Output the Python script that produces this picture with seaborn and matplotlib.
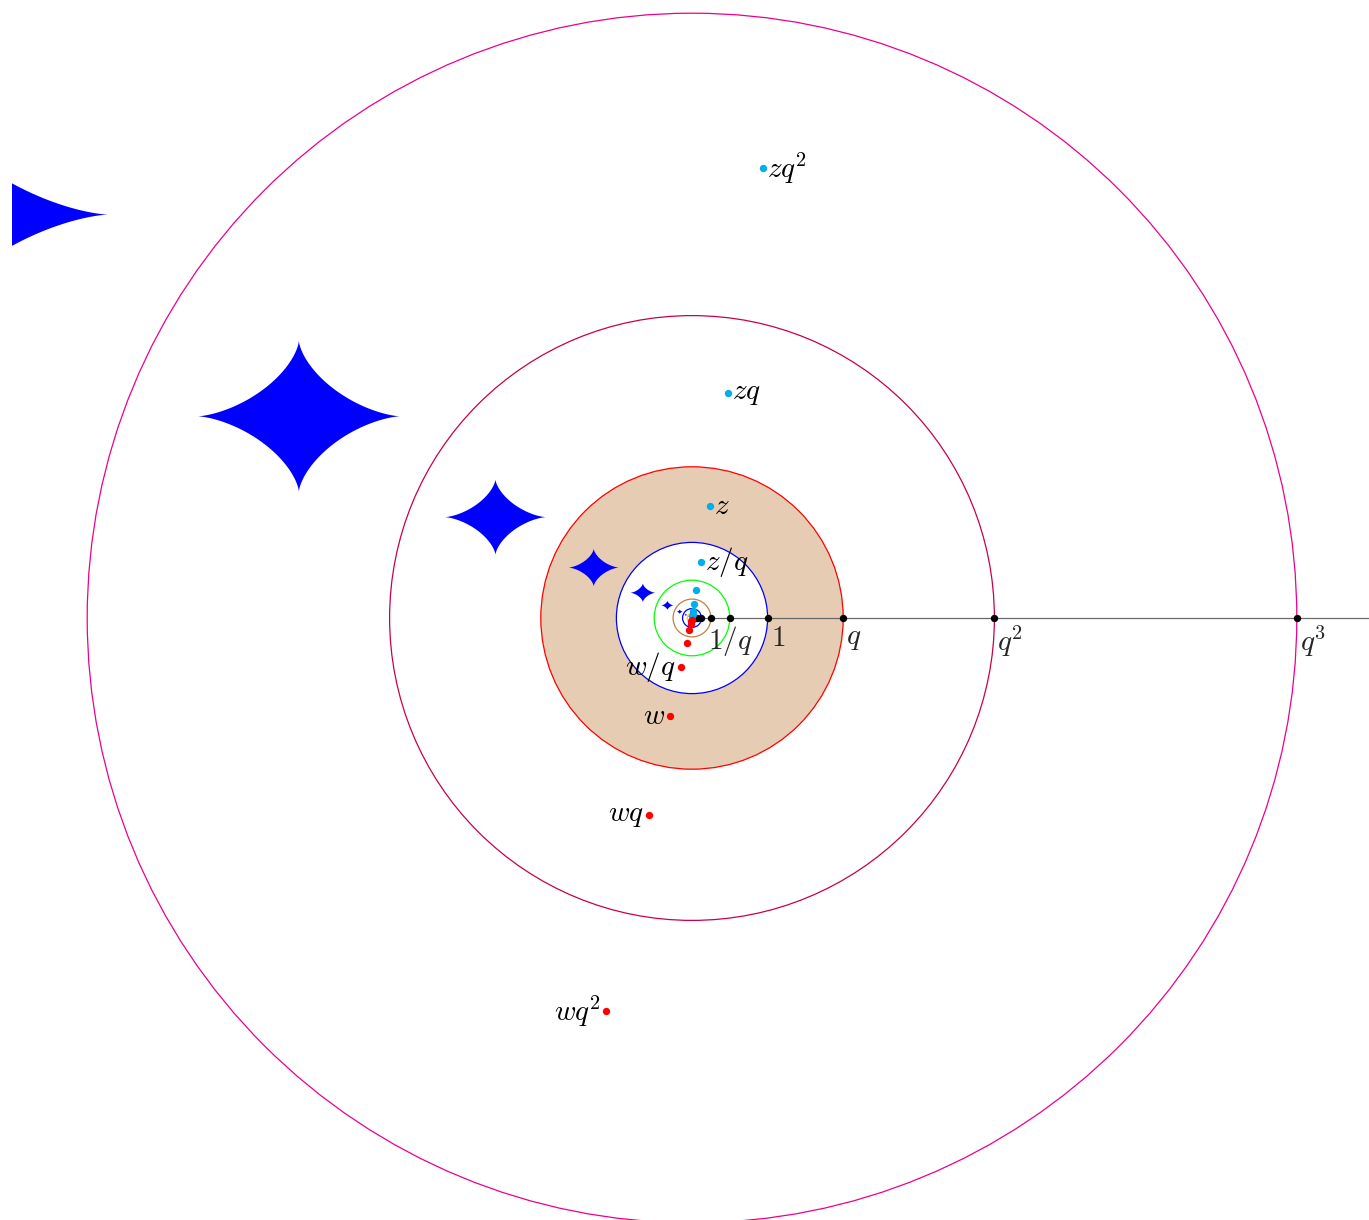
import numpy as np
import pandas as pd
import matplotlib
matplotlib.use("Agg")
import matplotlib.pyplot as plt
import seaborn as sns
from matplotlib.patches import Circle, Rectangle

# q-spiral data
q = 2.0
z = complex(0.235, 1.487)
w = complex(-0.285, -1.30)
star_center = complex(-1.30, 0.667)
star_half_w = 0.335
star_half_h = 0.25

ring_powers = [3, 2, 1, 0, -1, -2, -3, -4]
ring_colors = ["#ec008c", "#c8004e", "#ff0000", "#0000ff", "#00ff00", "#bf8040", "#0000ff", "#ffd400"]
axis_powers = list(range(-6, 4))
z_powers = list(range(-6, 3))
w_powers = list(range(-6, 3))
star_powers = list(range(-6, 4))
z_labels = {-1: r"$z/q$", 0: r"$z$", 1: r"$zq$", 2: r"$zq^2$"}
w_labels = {-1: r"$w/q$", 0: r"$w$", 1: r"$wq$", 2: r"$wq^2$"}
axis_labels = {-1: r"$1/q$", 0: r"$1$", 1: r"$q$", 2: r"$q^2$", 3: r"$q^3$"}

sns.set_theme(style="white")
plt.rcParams["mathtext.fontset"] = "cm"

W, H = 1369, 1220
S = 75.6            # pixels per unit
cx, cy = 692, 618   # origin in pixels
fig = plt.figure(figsize=(W / 100, H / 100), dpi=100)
ax = fig.add_axes([0, 0, 1, 1])
ax.set_xlim(-cx / S, (W - cx) / S)
ax.set_ylim(-(H - cy) / S, cy / S)
ax.set_axis_off()

# shaded annulus between 1 and q
ax.add_patch(Circle((0, 0), q, facecolor="#e5ccb3", edgecolor="none", zorder=1))
ax.add_patch(Circle((0, 0), 1.0, facecolor="white", edgecolor="none", zorder=1))

# circles |x| = q^k
for k, col in zip(ring_powers, ring_colors):
    ax.add_patch(Circle((0, 0), q ** k, fill=False, edgecolor=col, lw=0.9, zorder=3))

# astroid stars along c*q^k
clip = Rectangle((-9.0, -20), 40, 40, transform=ax.transData)
t = np.linspace(0, 2 * np.pi, 600)
for k in star_powers:
    s = q ** k
    c = star_center * s
    xs = c.real + star_half_w * s * np.cos(t) ** 3
    ys = c.imag + star_half_h * s * np.sin(t) ** 3
    patches = ax.fill(xs, ys, color="#0000ff", lw=0, zorder=4)
    for p in patches:
        p.set_clip_path(clip)

# positive real axis
ax.plot([0, 20], [0, 0], color="#6a6a6a", lw=0.9, zorder=5)
axis_df = pd.DataFrame({"x": [q ** k for k in axis_powers], "y": [0.0] * len(axis_powers)})
sns.scatterplot(data=axis_df, x="x", y="y", color="black", s=28, linewidth=0, ax=ax, zorder=6)

# orbits of z and w
z_df = pd.DataFrame({"x": [(z * q ** k).real for k in z_powers], "y": [(z * q ** k).imag for k in z_powers]})
w_df = pd.DataFrame({"x": [(w * q ** k).real for k in w_powers], "y": [(w * q ** k).imag for k in w_powers]})
sns.scatterplot(data=z_df, x="x", y="y", color="#00aeef", s=28, linewidth=0, ax=ax, zorder=7)
sns.scatterplot(data=w_df, x="x", y="y", color="#ff0000", s=28, linewidth=0, ax=ax, zorder=7)

fs = 21
px = 1 / S
for k, lab in z_labels.items():
    p = z * q ** k
    ax.text(p.real + 4 * px, p.imag, lab, fontsize=fs, ha="left", va="center", color="black", zorder=8)
for k, lab in w_labels.items():
    p = w * q ** k
    ax.text(p.real - 5 * px, p.imag, lab, fontsize=fs, ha="right", va="center", color="black", zorder=8)
for k, lab in axis_labels.items():
    x = q ** k
    if k == -1:
        ax.text(x, -6 * px, lab, fontsize=fs, ha="center", va="top", zorder=8)
    else:
        ax.text(x + 3 * px, -6 * px, lab, fontsize=fs, ha="left", va="top", zorder=8)

fig.savefig("out.png", dpi=100)
